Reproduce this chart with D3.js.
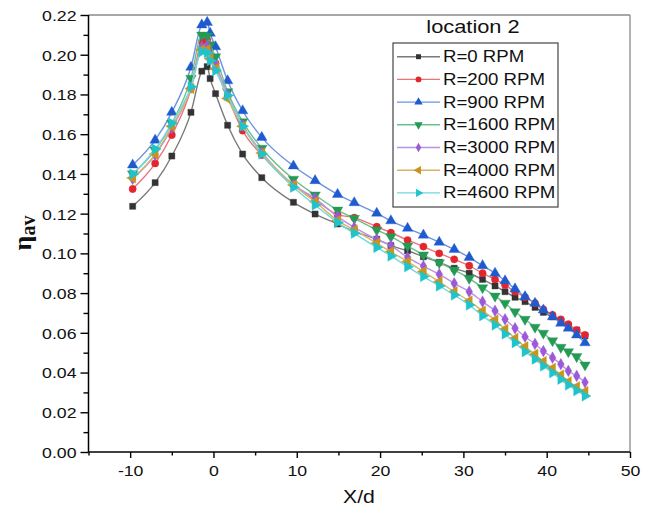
<!DOCTYPE html>
<html><head><meta charset="utf-8">
<script src="https://cdn.jsdelivr.net/npm/d3@7"></script>
<style>body{margin:0;background:#fff}</style>
</head><body><svg id="c" width="652" height="510"></svg>
<script>
const xValues = [-9.7, -7, -5, -2.7, -1.4, -0.75, -0.4, 0.25, 1.7, 3.5, 5.8, 9.6, 12.2, 14.9, 16.9, 19.6, 21.3, 23.3, 25.2, 27.1, 28.9, 30.7, 32.3, 33.8, 35.0, 36.2, 37.4, 38.6, 39.6, 40.7, 41.7, 42.6, 43.6, 44.6];
const r0 = [0.1237, 0.1356, 0.149, 0.171, 0.1917, 0.194, 0.188, 0.1804, 0.1645, 0.150, 0.1381, 0.1257, 0.1198, 0.1148, 0.111, 0.1071, 0.1039, 0.1013, 0.0983, 0.0955, 0.0925, 0.090, 0.0869, 0.0836, 0.0807, 0.0779, 0.0757, 0.0728, 0.0703, 0.068, 0.066, 0.0634, 0.0614, 0.0585];
const r200 = [0.1324, 0.1453, 0.1596, 0.183, 0.2066, 0.2075, 0.203, 0.1957, 0.179, 0.1618, 0.1495, 0.1344, 0.1269, 0.1195, 0.118, 0.1134, 0.1104, 0.1067, 0.1034, 0.1000, 0.097, 0.0938, 0.090, 0.0869, 0.0841, 0.0807, 0.0779, 0.0749, 0.0718, 0.069, 0.0668, 0.0643, 0.0614, 0.0589];
const r900 = [0.1445, 0.157, 0.171, 0.1937, 0.215, 0.2163, 0.2108, 0.204, 0.1869, 0.1718, 0.1584, 0.144, 0.1366, 0.1297, 0.1255, 0.1202, 0.1164, 0.1126, 0.1092, 0.1056, 0.102, 0.098, 0.0938, 0.090, 0.0862, 0.0821, 0.0782, 0.0749, 0.0715, 0.0681, 0.0648, 0.0623, 0.0589, 0.055];
const r1600 = [0.140, 0.152, 0.1655, 0.1881, 0.2099, 0.2094, 0.205, 0.199, 0.1814, 0.1663, 0.1529, 0.1373, 0.1294, 0.1218, 0.1176, 0.1118, 0.1084, 0.1037, 0.0992, 0.0953, 0.0916, 0.0874, 0.0827, 0.0785, 0.0749, 0.0706, 0.0668, 0.0628, 0.0598, 0.056, 0.0527, 0.0505, 0.048, 0.0438];
const r3000 = [0.1375, 0.1495, 0.163, 0.1835, 0.204, 0.2045, 0.200, 0.195, 0.180, 0.1645, 0.151, 0.1345, 0.1277, 0.1185, 0.1131, 0.1071, 0.1039, 0.098, 0.0936, 0.0895, 0.0849, 0.0807, 0.0757, 0.0711, 0.0668, 0.0623, 0.058, 0.0544, 0.0508, 0.0475, 0.0442, 0.0408, 0.0383, 0.0351];
const r4000 = [0.138, 0.150, 0.164, 0.183, 0.2025, 0.2025, 0.198, 0.193, 0.178, 0.164, 0.1505, 0.1344, 0.126, 0.1165, 0.1118, 0.1051, 0.1008, 0.0958, 0.0908, 0.0857, 0.0807, 0.076, 0.071, 0.0665, 0.0618, 0.0572, 0.053, 0.0492, 0.0455, 0.0421, 0.0388, 0.0354, 0.0329, 0.0304];
const r4600 = [0.140, 0.1525, 0.1655, 0.1839, 0.2015, 0.201, 0.197, 0.192, 0.1795, 0.164, 0.150, 0.1333, 0.1243, 0.1155, 0.1101, 0.103, 0.0987, 0.0933, 0.0883, 0.0836, 0.079, 0.074, 0.0686, 0.0639, 0.0594, 0.055, 0.0505, 0.0467, 0.0433, 0.0399, 0.0366, 0.0337, 0.0309, 0.0282];
const seriesNames = ["R=0 RPM", "R=200 RPM", "R=900 RPM", "R=1600 RPM", "R=3000 RPM", "R=4000 RPM", "R=4600 RPM"];
const seriesValues = [r0, r200, r900, r1600, r3000, r4000, r4600];
const xTicks = [-10, 0, 10, 20, 30, 40, 50];
const xTickLabels = ["-10", "0", "10", "20", "30", "40", "50"];
const xMinor = [-15, -5, 5, 15, 25, 35, 45];
const yTicks = [0, 0.02, 0.04, 0.06, 0.08, 0.10, 0.12, 0.14, 0.16, 0.18, 0.20, 0.22];
const yTickLabels = ["0.00", "0.02", "0.04", "0.06", "0.08", "0.10", "0.12", "0.14", "0.16", "0.18", "0.20", "0.22"];
const yMinor = [0.01, 0.03, 0.05, 0.07, 0.09, 0.11, 0.13, 0.15, 0.17, 0.19, 0.21];
const legendTitle = "location 2";
const xLabel = "X/d";

const colors = ["#333333", "#e3262d", "#1f5bcf", "#249b55", "#9b5ad6", "#c8941a", "#1fc3cc"];
const lineColors = ["#7a7a7a", "#ee7378", "#6b93df", "#6cbf8d", "#bb93e3", "#d8b468", "#6fd8de"];
const shapes = ["square", "circle", "up", "down", "diamond", "left", "right"];

const svg = d3.select("#c");
const L = 88.5, R = 630, T = 15, B = 452;
const x = d3.scaleLinear().domain([-15, 50]).range([L, R]);
const y = d3.scaleLinear().domain([0, 0.22]).range([B, T]);
const FONT = "'Liberation Sans', Arial, sans-serif";
const SX = 1.18;

function sym(shape) {
  const s = {square: d3.symbolSquare, circle: d3.symbolCircle, up: d3.symbolTriangle, down: d3.symbolTriangle,
    diamond: d3.symbolDiamond, left: d3.symbolTriangle, right: d3.symbolTriangle}[shape];
  const size = {square: 38, circle: 42, up: 48, down: 48, diamond: 40, left: 48, right: 48}[shape];
  return d3.symbol().type(s).size(size)();
}
function rot(shape) {
  return {down: 180, left: -90, right: 90}[shape] || 0;
}

// frame top/right
svg.append("line").attr("x1", L).attr("x2", R).attr("y1", T).attr("y2", T).attr("stroke", "#8a8a8a").attr("stroke-width", 1.3);
svg.append("line").attr("x1", R).attr("x2", R).attr("y1", T).attr("y2", B).attr("stroke", "#8a8a8a").attr("stroke-width", 1.3);

// axes
const gx = svg.append("g").attr("transform", `translate(0,${B})`);
gx.call(d3.axisBottom(x).tickValues(xMinor).tickSize(3.5).tickFormat(""));
gx.call(g => g.select(".domain").remove());
const gx2 = svg.append("g").attr("transform", `translate(0,${B})`);
gx2.call(d3.axisBottom(x).tickValues(xTicks).tickSize(6).tickPadding(7).tickFormat((d, i) => xTickLabels[i]));
gx2.select(".domain").attr("d", `M${L},0H${R}`).attr("stroke-width", 1.5);
gx2.selectAll(".tick line").attr("stroke-width", 1.4);
gx.selectAll(".tick line").attr("stroke-width", 1.4);
gx2.selectAll(".tick text").attr("font-family", FONT).attr("font-size", 15).attr("fill", "#111")
  .attr("transform", `scale(${SX},1)`);

const gy = svg.append("g").attr("transform", `translate(${L},0)`);
gy.call(d3.axisLeft(y).tickValues(yMinor).tickSize(5).tickFormat(""));
gy.call(g => g.select(".domain").remove());
const gy2 = svg.append("g").attr("transform", `translate(${L},0)`);
gy2.call(d3.axisLeft(y).tickValues(yTicks).tickSize(8).tickPadding(4).tickFormat((d, i) => yTickLabels[i]));
gy2.select(".domain").attr("d", `M0,${T}V${B}`).attr("stroke-width", 1.5);
gy2.selectAll(".tick line").attr("stroke-width", 1.4);
gy.selectAll(".tick line").attr("stroke-width", 1.4);
gy2.selectAll(".tick text").attr("font-family", FONT).attr("font-size", 15).attr("fill", "#111")
  .attr("transform", `scale(${SX},1)`)
  .attr("x", -12 / SX).attr("dy", "0.36em");

// axis labels
svg.append("text").attr("transform", `translate(359,503) scale(${SX},1)`).attr("text-anchor", "middle")
  .attr("font-family", FONT).attr("font-size", 18).attr("fill", "#111").text(xLabel);
const yl = svg.append("text").attr("transform", "translate(31,233) rotate(-90)").attr("text-anchor", "middle")
  .attr("font-family", "'Liberation Serif', 'Times New Roman', serif").attr("font-weight", "bold").attr("fill", "#111");
yl.append("tspan").attr("font-size", 26).text("η");
yl.append("tspan").attr("font-size", 20).attr("dy", 4).text("av");

// series
const line = d3.line().x((d, i) => x(xValues[i])).y(d => y(d)).curve(d3.curveMonotoneX);
seriesValues.forEach((vals, k) => {
  const g = svg.append("g");
  g.append("path").attr("d", line(vals)).attr("fill", "none").attr("stroke", lineColors[k]).attr("stroke-width", 1.4);
  g.selectAll("path.m").data(vals).enter().append("path").attr("class", "m")
    .attr("d", sym(shapes[k]))
    .attr("transform", (d, i) => `translate(${x(xValues[i])},${y(d)}) rotate(${rot(shapes[k])})`)
    .attr("fill", colors[k]).attr("stroke", colors[k]).attr("stroke-opacity", 0.35).attr("stroke-width", 1);
});

// legend
svg.append("text").attr("transform", `translate(473,33) scale(${SX},1)`).attr("text-anchor", "middle")
  .attr("font-family", FONT).attr("font-size", 18.5).attr("fill", "#111").text(legendTitle);
svg.append("rect").attr("x", 393).attr("y", 43).attr("width", 165).attr("height", 164)
  .attr("fill", "#fff").attr("stroke", "#444").attr("stroke-width", 1.2);
seriesNames.forEach((name, k) => {
  const cy = 56.7 + k * 22.7;
  svg.append("line").attr("x1", 397).attr("x2", 440).attr("y1", cy).attr("y2", cy)
    .attr("stroke", lineColors[k]).attr("stroke-width", 1.4);
  svg.append("path").attr("d", sym(shapes[k]))
    .attr("transform", `translate(418.5,${cy}) rotate(${rot(shapes[k])}) scale(0.8)`)
    .attr("fill", colors[k]);
  svg.append("text").attr("transform", `translate(443,${cy + 5.5}) scale(${SX},1)`)
    .attr("font-family", FONT).attr("font-size", 15.8).attr("fill", "#111").text(name);
});
</script></body></html>
